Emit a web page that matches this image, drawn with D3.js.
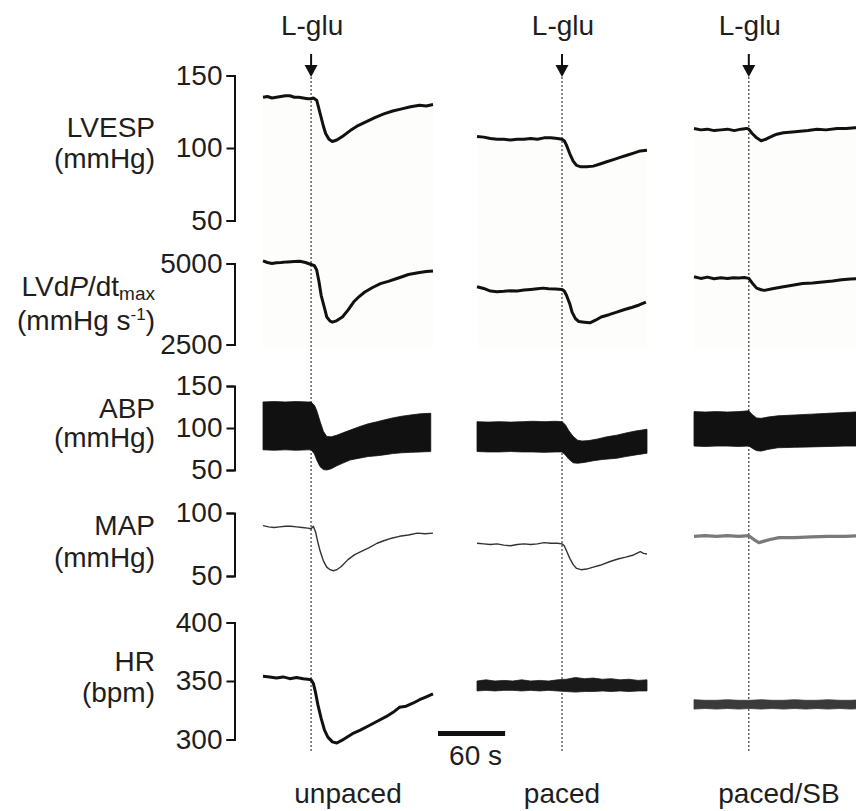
<!DOCTYPE html>
<html>
<head>
<meta charset="utf-8">
<script src="https://cdn.jsdelivr.net/npm/d3@7"></script>
<style>
  html, body { margin: 0; padding: 0; background: #fff; }
  svg { display: block; font-family: "Liberation Sans", Arial, Helvetica, sans-serif; }
</style>
</head>
<body>
<svg id="chart" width="856" height="811"></svg>
<script>
// ---- Recording conditions and L-glutamate injection times (s from start of each trace) ----
const conditions = ["unpaced", "paced", "paced/SB"];
const gluTimes = [43, 76, 49];
const scaleBarSeconds = 60;

// ---- Axis ticks ----
const lvespTicks = [50, 100, 150];
const lvdpTicks = [2500, 5000];
const abpTicks = [50, 100, 150];
const mapTicks = [50, 100];
const hrTicks = [300, 350, 400];

// ---- LV end-systolic pressure (mmHg), [time s, value] ----
const lvespUnpaced = [[0,135],[4,135.5],[8,134.5],[12,135],[16,135.5],[20,136],[24,136],[28,135],[32,135],[36,134.5],[40,134],[43,134],[45,134.5],[48,133],[51,124],[54,115],[56,110],[59,106],[62,104.5],[66,105.5],[72,108.5],[78,112],[85,115.5],[92,118],[100,121],[108,123.5],[116,125.5],[124,127],[132,128.5],[140,129.5],[146,129],[152,130]];
const lvespPaced = [[0,108],[6,107.5],[12,106.5],[18,106],[24,106],[30,105.5],[36,106],[42,106],[48,106.5],[54,106],[60,107],[66,107],[72,106.5],[76,106],[78,105],[80,102],[83,96],[86,91],[89,88],[93,87],[98,87],[104,87.5],[110,89],[116,90.5],[122,92],[128,93.5],[134,95],[140,96.5],[146,98],[152,98.5]];
const lvespSB = [[0,113.5],[6,112.5],[12,113],[18,112],[24,112.5],[30,113],[36,112],[42,113],[47,113.5],[49,113],[52,110],[56,107],[60,105],[64,106],[68,107.5],[74,109.5],[80,110.5],[88,111],[95,111.5],[102,112],[110,113],[118,112.5],[128,113.5],[136,113.5],[144,114],[152,114]];

// ---- LV dP/dt max (mmHg s^-1) ----
const lvdpUnpaced = [[0,5080],[4,5030],[8,5000],[12,5020],[16,5030],[22,5050],[28,5060],[33,5070],[38,5030],[43,4970],[46,4930],[48,4800],[50,4450],[52,4020],[55,3620],[57,3350],[60,3220],[62,3190],[65,3220],[71,3350],[76,3560],[81,3810],[86,3980],[91,4120],[98,4260],[105,4380],[112,4450],[119,4530],[125,4600],[130,4660],[135,4690],[140,4720],[146,4750],[152,4770]];
const lvdpPaced = [[0,4280],[6,4230],[12,4150],[18,4130],[24,4140],[30,4160],[36,4150],[42,4180],[48,4200],[54,4220],[59,4240],[64,4220],[70,4210],[76,4200],[78,4150],[80,4020],[83,3750],[85,3500],[88,3300],[91,3210],[96,3190],[101,3170],[106,3250],[111,3350],[118,3420],[125,3500],[132,3580],[139,3650],[145,3720],[151,3810]];
const lvdpSB = [[0,4590],[6,4540],[12,4580],[18,4530],[24,4560],[30,4540],[35,4560],[40,4550],[45,4570],[49,4540],[52,4400],[56,4240],[60,4190],[63,4170],[70,4220],[80,4280],[88,4330],[97,4380],[106,4400],[115,4430],[124,4460],[132,4500],[140,4520],[146,4530],[152,4540]];

// ---- Arterial blood pressure envelope (systolic / diastolic, mmHg) ----
const abpUnpacedHi = [[0,131],[10,131.5],[20,131],[30,131.5],[40,131],[43,131],[46,127],[48,121],[51,108],[54,96],[57,90],[61,89.5],[66,91.5],[72,94.5],[78,97.5],[86,101.5],[94,105],[102,107.5],[108,109.5],[116,112],[124,114],[132,115.5],[141,117],[150,117.5]];
const abpUnpacedLo = [[0,74],[10,73.5],[20,74],[30,73.5],[40,74],[43,74],[46,69],[48,62],[51,54],[54,50.5],[57,50],[61,51.5],[66,55],[72,58.5],[78,62],[86,64],[94,66],[102,67],[108,68],[116,69.5],[124,70.5],[132,71],[141,71.5],[150,72]];
const abpPacedHi = [[0,107.5],[10,107],[20,107.5],[30,107],[40,107.5],[50,108],[60,107.5],[70,108],[76,107.5],[79,104],[82,97],[86,90],[90,85.5],[94,84.5],[100,85],[108,87],[116,89.5],[125,91.5],[133,94],[142,96.5],[152,98.5]];
const abpPacedLo = [[0,72],[10,71.5],[20,71.5],[30,72],[40,71.5],[50,71.5],[60,71],[70,71.5],[76,71.5],[79,68],[82,63],[86,58.5],[90,58],[96,59],[104,61],[112,62.5],[125,64],[133,66],[142,68],[152,70]];
const abpSBHi = [[0,119.5],[10,119],[20,119.5],[30,119],[40,119.5],[49,120.5],[52,116],[56,112],[60,111.5],[66,113],[75,114.5],[90,115.5],[105,116.5],[120,117.5],[135,118.5],[152,119.5]];
const abpSBLo = [[0,78.5],[10,78],[20,78.5],[30,78.5],[40,78],[49,78.5],[52,76],[56,73],[60,72.5],[66,74.5],[75,76.5],[90,77],[105,77.5],[120,78],[135,78.5],[152,78.5]];

// ---- Mean arterial pressure (mmHg) ----
const mapUnpaced = [[0,90],[5,89],[10,88.5],[15,89],[20,89.5],[25,89.5],[30,89],[35,88.5],[40,88],[43,87.5],[45,89.5],[47,85],[49,77],[51,70],[54,62],[57,57],[60,55],[63,54.2],[66,55],[70,57.5],[76,63],[82,67],[88,69.5],[95,72.5],[102,76],[108,78],[115,80],[122,81.5],[130,82.5],[138,84],[145,83.5],[152,84]];
const mapPaced = [[0,76],[6,75.5],[12,75],[18,75.5],[24,74.5],[30,74],[36,75],[42,75.5],[48,75],[54,75.5],[60,76.5],[66,76],[72,76],[76,75.5],[78,74],[80,70],[83,64],[86,59],[89,56],[93,55],[98,55.5],[104,57],[110,58.5],[119,61.5],[126,63.5],[133,65],[140,66.7],[146,69.3],[149,68],[152,67.5]];
const mapSB = [[0,81.5],[10,82],[20,81.5],[30,82],[40,81.5],[49,82],[52,80],[55,78],[58,76.5],[62,77.5],[68,79],[76,80.5],[90,80.5],[105,81],[120,81.5],[135,81.5],[152,82]];

// ---- Heart rate (bpm) ----
const hrUnpaced = [[0,354],[6,353.5],[12,352.5],[18,353.5],[24,352],[30,353],[36,352],[40,351.5],[43,351],[45,348],[47,340],[49,330],[52,318],[55,308],[58,302],[62,298],[66,297],[70,299],[75,302],[80,305],[87,308],[95,312],[103,316],[110,319.5],[116,323],[122,327.5],[128,328.5],[134,331],[140,334],[146,336.5],[152,339]];
const hrPacedHi = [[0,350],[8,351],[16,350],[24,350.5],[32,350],[40,351],[48,350],[56,350.5],[64,350],[72,351],[80,351.5],[88,353],[96,352],[104,352.5],[112,351.5],[120,352],[128,351],[136,351.5],[144,350.5],[152,351]];
const hrPacedLo = [[0,341.5],[8,342],[16,341.5],[24,342],[32,342],[40,341.5],[48,342],[56,341.5],[64,342],[72,341.5],[80,341],[88,340.5],[96,341],[104,341],[112,341.5],[120,341],[128,341.5],[136,341],[144,341.5],[152,341.5]];
const hrSBHi = [[0,334],[10,333.5],[20,333.5],[30,334],[40,333.5],[50,333.5],[60,334],[70,333.5],[80,333.5],[90,334],[100,333.5],[110,333.5],[120,334],[130,333.5],[140,333.5],[152,334]];
const hrSBLo = [[0,326],[10,326.5],[20,326],[30,326.5],[40,326],[50,326.5],[60,326],[70,326.5],[80,326],[90,326.5],[100,326],[110,326.5],[120,326],[130,326.5],[140,326],[152,326.5]];

// ================= drawing =================
const svg = d3.select("#chart");
const TEXT = "#1e1e1e";
const INK = "#111";
const FS = 28;

const traceSeconds = 152;
const traceWidth = 170;
const columnLeft = [263, 477, 694];
const xScales = columnLeft.map(x0 =>
  d3.scaleLinear().domain([0, traceSeconds]).range([x0, x0 + traceWidth]));

const axisX = 234.5;

const yLvesp = d3.scaleLinear().domain([50, 150]).range([220.5, 75.5]);
const yLvdp = d3.scaleLinear().domain([2500, 5000]).range([344.5, 263.5]);
const yAbp = d3.scaleLinear().domain([50, 150]).range([470, 386]);
const yMap = d3.scaleLinear().domain([50, 100]).range([576, 513]);
const yHr = d3.scaleLinear().domain([300, 400]).range([739.5, 622.5]);

// faint panel shading beneath the LV traces
const shade = svg.append("g");
[lvespUnpaced, lvespPaced, lvespSB].forEach((d, i) => {
  const area = d3.area()
    .x(p => xScales[i](p[0]))
    .y0(348)
    .y1(p => yLvesp(p[1]));
  shade.append("path").attr("d", area(d)).attr("fill", "#fdfdfb");
});

// ---- axes ----
function drawAxis(scale, ticks) {
  const g = svg.append("g")
    .attr("transform", `translate(${axisX},0)`)
    .call(d3.axisLeft(scale).tickValues(ticks).tickSize(8).tickSizeOuter(8)
      .tickPadding(4).tickFormat(d3.format("d")));
  g.select(".domain").attr("stroke", INK).attr("stroke-width", 2).attr("fill", "none");
  g.selectAll(".tick line").attr("stroke", INK).attr("stroke-width", 2);
  g.selectAll(".tick text").attr("fill", TEXT).attr("font-size", FS)
    .attr("font-family", "Liberation Sans, Arial, sans-serif");
}
drawAxis(yLvesp, lvespTicks);
drawAxis(yLvdp, lvdpTicks);
drawAxis(yAbp, abpTicks);
drawAxis(yMap, mapTicks);
drawAxis(yHr, hrTicks);

// ---- row labels ----
const labelX = 155;
function twoLine(l1, l2, y1, y2) {
  svg.append("text").attr("x", labelX).attr("y", y1).attr("text-anchor", "end")
    .attr("font-size", FS).attr("fill", TEXT).text(l1);
  svg.append("text").attr("x", labelX).attr("y", y2).attr("text-anchor", "end")
    .attr("font-size", FS).attr("fill", TEXT).text(l2);
}
twoLine("LVESP", "(mmHg)", 137, 168);

const dp1 = svg.append("text").attr("x", labelX).attr("y", 296).attr("text-anchor", "end")
  .attr("font-size", FS).attr("fill", TEXT);
dp1.append("tspan").text("LVd");
dp1.append("tspan").attr("font-style", "italic").text("P");
dp1.append("tspan").text("/dt");
dp1.append("tspan").attr("font-size", 19).attr("dy", 4).text("max");
const dp2 = svg.append("text").attr("x", labelX).attr("y", 330).attr("text-anchor", "end")
  .attr("font-size", FS).attr("fill", TEXT);
dp2.append("tspan").text("(mmHg s");
dp2.append("tspan").attr("font-size", 17).attr("dy", -10).text("-1");
dp2.append("tspan").attr("dy", 10).text(")");

twoLine("ABP", "(mmHg)", 418, 447);
twoLine("MAP", "(mmHg)", 535, 567);
twoLine("HR", "(bpm)", 671, 702);

// ---- injection markers ----
gluTimes.forEach((t, i) => {
  const x = xScales[i](t);
  svg.append("line").attr("x1", x).attr("x2", x).attr("y1", 77).attr("y2", 752)
    .attr("stroke", "#3a3a3a").attr("stroke-width", 1.2).attr("stroke-dasharray", "2,2");
  svg.append("line").attr("x1", x).attr("x2", x).attr("y1", 54).attr("y2", 67)
    .attr("stroke", INK).attr("stroke-width", 2);
  svg.append("path")
    .attr("d", `M${x - 6.5},65 L${x + 6.5},65 L${x},77 Z`)
    .attr("fill", INK);
  svg.append("text").attr("x", x + 1).attr("y", 35).attr("text-anchor", "middle")
    .attr("font-size", FS).attr("fill", TEXT).text("L-glu");
});

// ---- traces ----
function lineTrace(data, i, y, width, color) {
  const line = d3.line().x(d => xScales[i](d[0])).y(d => y(d[1]));
  svg.append("path").attr("d", line(data)).attr("fill", "none")
    .attr("stroke", color).attr("stroke-width", width)
    .attr("stroke-linejoin", "round").attr("stroke-linecap", "butt");
}
// envelope band: upper edge left-to-right, lower edge back right-to-left
function bandTrace(hi, lo, i, y, color) {
  const outline = hi.concat(lo.slice().reverse());
  const line = d3.line().x(d => xScales[i](d[0])).y(d => y(d[1]));
  svg.append("path").attr("d", line(outline) + "Z").attr("fill", color)
    .attr("stroke", color).attr("stroke-width", 0.8).attr("stroke-linejoin", "round");
}

[lvespUnpaced, lvespPaced, lvespSB].forEach((d, i) => lineTrace(d, i, yLvesp, 3, INK));
[lvdpUnpaced, lvdpPaced, lvdpSB].forEach((d, i) => lineTrace(d, i, yLvdp, 3, INK));

bandTrace(abpUnpacedHi, abpUnpacedLo, 0, yAbp, INK);
bandTrace(abpPacedHi, abpPacedLo, 1, yAbp, INK);
bandTrace(abpSBHi, abpSBLo, 2, yAbp, INK);

lineTrace(mapUnpaced, 0, yMap, 1.4, "#333");
lineTrace(mapPaced, 1, yMap, 1.4, "#333");
lineTrace(mapSB, 2, yMap, 3.2, "#7a7a7a");

lineTrace(hrUnpaced, 0, yHr, 3, INK);
bandTrace(hrPacedHi, hrPacedLo, 1, yHr, "#1a1a1a");
bandTrace(hrSBHi, hrSBLo, 2, yHr, "#3a3a3a");

// ---- time scale bar ----
const barScale = d3.scaleLinear().domain([0, traceSeconds]).range([438, 438 + traceWidth]);
svg.append("line")
  .attr("x1", barScale(0)).attr("x2", barScale(scaleBarSeconds))
  .attr("y1", 733.5).attr("y2", 733.5)
  .attr("stroke", INK).attr("stroke-width", 5);
svg.append("text")
  .attr("x", (barScale(0) + barScale(scaleBarSeconds)) / 2 + 4).attr("y", 765)
  .attr("text-anchor", "middle").attr("font-size", FS).attr("fill", TEXT)
  .text(`${scaleBarSeconds} s`);

// ---- condition labels ----
conditions.forEach((c, i) => {
  const cx = xScales[i](traceSeconds / 2);
  svg.append("text").attr("x", cx).attr("y", 803).attr("text-anchor", "middle")
    .attr("font-size", FS).attr("fill", TEXT).text(c);
});
</script>
</body>
</html>
